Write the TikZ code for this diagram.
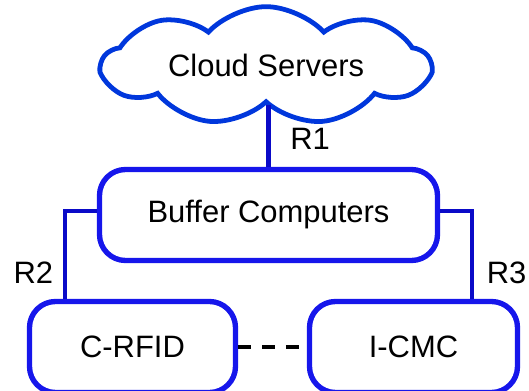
\documentclass[tikz,border=0pt]{standalone}
\usepackage{fontspec}
\setmainfont{Liberation Sans}
\usepackage{tikz}
\usetikzlibrary{shapes.symbols, positioning}

\definecolor{boxblue}{RGB}{22,22,235}
\definecolor{linkblue}{RGB}{10,10,200}
\definecolor{cloudblue}{RGB}{0,55,220}

\begin{document}
\begin{tikzpicture}[
  every node/.style={font=\fontsize{22}{26}\selectfont},
  unit/.style={rectangle, rounded corners=0.65cm, draw=boxblue,
               line width=3.8pt, minimum height=2.275cm, align=center},
  cloudnode/.style={cloud, cloud puffs=9, cloud puff arc=95, aspect=3.4,
                    draw=cloudblue, line width=3.4pt, inner sep=0pt,
                    minimum width=8.2cm, minimum height=2.6cm},
  link/.style={draw=linkblue, line width=3pt},
  peer/.style={draw=black, line width=3pt, dash pattern=on 9pt off 8pt},
]
\clip (-6.7125,-4.375) rectangle (6.5125,5.375);

% Nodes
\node[unit, minimum width=8.45cm] (buf) at (0,0) {Buffer Computers};
\node[cloudnode] (cloud) at (-0.06,3.73) {Cloud Servers};
\node[unit, minimum width=5.15cm] (crfid) at (-3.4,-3.3) {C-RFID};
\node[unit, minimum width=5.2cm] (icmc) at (3.625,-3.3) {I-CMC};

% Links
\coordinate (r2) at (-5.0875,0.1);
\coordinate (r3) at (5.0875,0.1);
\draw[link] (buf.north) -- (buf.north |- cloud.south)
  node[pos=0.45, right=0.375cm] (lr1) {R1};
\draw[link] (buf.west |- r2) -- (r2) -- (r2 |- crfid.north)
  node[pos=0.7, left=0.125cm] (lr2) {R2};
\draw[link] (buf.east |- r3) -- (r3) -- (r3 |- icmc.north)
  node[pos=0.7, right=0.2cm] (lr3) {R3};
\draw[peer] (crfid.east) -- (icmc.west);
\end{tikzpicture}
\end{document}
